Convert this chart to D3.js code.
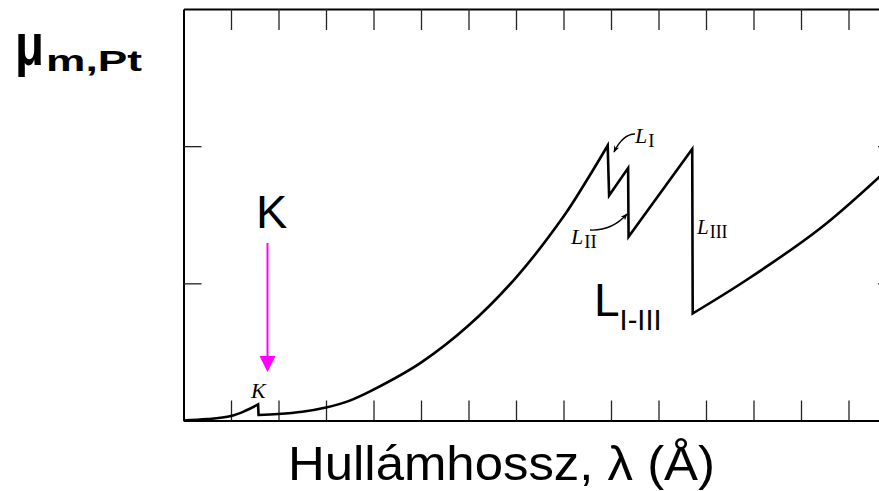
<!DOCTYPE html>
<html><head><meta charset="utf-8">
<script src="https://cdn.jsdelivr.net/npm/d3@7/dist/d3.min.js"></script>
<style>body{margin:0;background:#fff}svg{display:block}</style>
</head><body>
<script>
// Wavelength (Å) and mass absorption coefficient (arbitrary units) for Pt
const lambda = [0, 0.05, 0.10, 0.129, 0.157, 0.158, 0.199, 0.250, 0.300, 0.350, 0.400, 0.500, 0.600, 0.700, 0.800, 0.850, 0.893, 0.896, 0.936, 0.937, 1.071, 1.072, 1.186, 1.340, 1.466];
const mu     = [0, 0.010, 0.033, 0.069, 0.118, 0.040, 0.047, 0.064, 0.095, 0.145, 0.225, 0.422, 0.692, 1.042, 1.487, 1.757, 2.005, 1.64, 1.84, 1.34, 1.98, 0.78, 1.026, 1.40, 1.78];
const xTicks = [0.1,0.2,0.3,0.4,0.5,0.6,0.7,0.8,0.9,1.0,1.1,1.2,1.3,1.4];
const yTicks = [1, 2];

const W = 879, H = 491;
const svg = d3.select("body").append("svg").attr("width", W).attr("height", H);
const x = d3.scaleLinear().domain([0, 1.5]).range([183.5, 896]);
const y = d3.scaleLinear().domain([0, 3]).range([420.5, 9]);

// frame axes
const axG = svg.append("g").attr("fill","none");
const styleAxis = g => { g.selectAll("text").remove(); g.select(".domain").attr("stroke","#000").attr("stroke-width",2); g.selectAll(".tick line").attr("stroke","#222").attr("stroke-width",1.3); };
axG.append("g").attr("transform",`translate(0,${y(3)})`)
  .call(d3.axisBottom(x).tickValues(xTicks).tickSize(21).tickSizeOuter(0).tickFormat("")).call(styleAxis);
axG.append("g").attr("transform",`translate(0,${y(0)})`)
  .call(d3.axisTop(x).tickValues(xTicks).tickSize(20).tickSizeOuter(0).tickFormat("")).call(styleAxis);
axG.append("g").attr("transform",`translate(${x(0)},0)`)
  .call(d3.axisRight(y).tickValues(yTicks).tickSize(18).tickSizeOuter(0).tickFormat("")).call(styleAxis);
axG.append("g").attr("transform",`translate(${x(1.5)},0)`)
  .call(d3.axisLeft(y).tickValues(yTicks).tickSize(18).tickSizeOuter(0).tickFormat("")).call(styleAxis);

// curve: smooth runs joined by vertical absorption edges
const pts = lambda.map((l,i)=>[l, mu[i]]);
const runs = []; let cur = [pts[0]];
for (let i=1;i<pts.length;i++){
  if (pts[i][1] < pts[i-1][1] - 0.05) { runs.push(cur); cur = [pts[i]]; }
  else cur.push(pts[i]);
}
runs.push(cur);
const line = d3.line().x(d=>x(d[0])).y(d=>y(d[1])).curve(d3.curveCatmullRom.alpha(0.5));
let dStr = runs.map((r,i)=>{ const s=line(r); return i===0 ? s : "L"+s.slice(1); }).join("");
svg.append("path").attr("d", dStr).attr("fill","none").attr("stroke","#000")
  .attr("stroke-width",2.6).attr("stroke-linejoin","miter").attr("stroke-miterlimit",10);

// small italic edge labels
const serif = "'Liberation Serif','DejaVu Serif',serif";
function edgeLabel(xp, yp, sub, size){
  const t = svg.append("text").attr("x",xp).attr("y",yp).attr("font-family",serif).attr("font-size",size).attr("fill","#000");
  t.append("tspan").attr("font-style","italic").text("L");
  t.append("tspan").attr("dx",1).attr("dy",4).attr("font-size",size*0.85).text(sub);
}
svg.append("text").attr("x",251).attr("y",398).attr("font-family",serif).attr("font-style","italic").attr("font-size",22).text("K");
edgeLabel(635, 143, "I", 22);
edgeLabel(571, 244, "II", 22);
edgeLabel(697, 234, "III", 21);

// curved pointer arrows
svg.append("defs").append("marker").attr("id","ah").attr("viewBox","0 0 10 10").attr("refX",9).attr("refY",5)
  .attr("markerWidth",7).attr("markerHeight",7).attr("orient","auto-start-reverse").attr("markerUnits","userSpaceOnUse")
  .append("path").attr("d","M0,1 L10,5 L0,9 L3,5 Z").attr("fill","#000");
svg.append("path").attr("d","M635,134 Q623,134 614,152").attr("fill","none").attr("stroke","#000").attr("stroke-width",1.3).attr("marker-end","url(#ah)");
svg.append("path").attr("d","M590,230 Q612,231 627,214").attr("fill","none").attr("stroke","#000").attr("stroke-width",1.3).attr("marker-end","url(#ah)");

// magenta K arrow
const sans = "'Liberation Sans',Arial,sans-serif";
svg.append("text").attr("x",256).attr("y",228).attr("font-family",sans).attr("font-size",47).text("K");
svg.append("line").attr("x1",267.5).attr("y1",243).attr("x2",267.5).attr("y2",358).attr("stroke","#ff00ff").attr("stroke-width",2);
svg.append("path").attr("d","M259.5,356 L275.5,356 L267.5,372 Z").attr("fill","#ff00ff");

// L I-III label
const lt = svg.append("text").attr("x",594).attr("y",316).attr("font-family",sans).attr("font-size",46);
lt.append("tspan").text("L");
lt.append("tspan").attr("dy",14).attr("font-size",30).attr("textLength",42).attr("lengthAdjust","spacingAndGlyphs").text("I-III");

// y label (single text: μ with bold subscript)
const yl = svg.append("text").attr("x",15).attr("y",65).attr("font-family",sans).attr("font-weight","bold").attr("font-size",60);
yl.append("tspan").attr("textLength",29).attr("lengthAdjust","spacingAndGlyphs").text("μ");
yl.append("tspan").attr("x",46).attr("y",71).attr("font-size",29).attr("textLength",96).attr("lengthAdjust","spacingAndGlyphs").text("m,Pt");

// x label
svg.append("text").attr("x",288).attr("y",480).attr("font-family",sans).attr("font-size",48)
  .attr("textLength",427).attr("lengthAdjust","spacingAndGlyphs").text("Hullámhossz, λ (Å)");
</script>
</body></html>
